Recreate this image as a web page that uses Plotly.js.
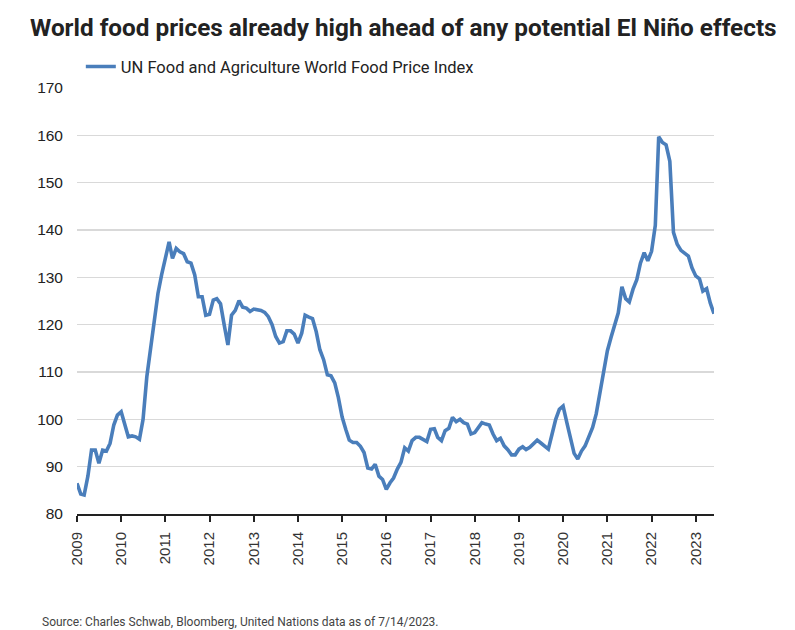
<!DOCTYPE html>
<html>
<head>
<meta charset="utf-8">
<script src="https://cdn.plot.ly/plotly-3.0.1.min.js"></script>
<style>html,body{margin:0;padding:0;background:#fff;}#chart{width:795px;height:630px;}</style>
</head>
<body>
<div id="chart"></div>
<script>
const seriesName = "UN Food and Agriculture World Food Price Index";
const startYear = 2009;
const v2009 = [86.5, 84.2, 84.0, 88.0, 93.5, 93.5, 90.7, 93.5, 93.3, 94.9, 98.8, 100.9];
const v2010 = [101.6, 99.0, 96.3, 96.5, 96.3, 95.8, 100.0, 109.0, 115.3, 121.0, 126.6, 130.5];
const v2011 = [134.4, 137.5, 134.0, 136.1, 135.4, 135.0, 133.3, 133.0, 130.5, 125.9, 125.9, 122.0];
const v2012 = [122.2, 125.2, 125.5, 124.4, 120.0, 115.7, 122.0, 123.0, 125.1, 123.7, 123.5, 122.8];
const v2013 = [123.3, 123.1, 123.0, 122.6, 121.7, 120.0, 117.5, 116.1, 116.4, 118.7, 118.7, 118.0];
const v2014 = [116.1, 118.2, 122.0, 121.6, 121.3, 118.5, 114.7, 112.6, 109.4, 109.2, 107.7, 104.6];
const v2015 = [100.5, 97.8, 95.6, 95.1, 95.1, 94.3, 93.0, 89.7, 89.5, 90.5, 88.0, 87.3];
const v2016 = [85.2, 86.6, 87.6, 89.5, 90.9, 94.0, 93.3, 95.5, 96.2, 96.2, 95.8, 95.3];
const v2017 = [97.9, 98.0, 96.2, 95.5, 97.6, 98.1, 100.4, 99.5, 100.0, 99.3, 99.0, 96.9];
const v2018 = [97.2, 98.3, 99.3, 99.0, 98.8, 96.9, 95.5, 96.0, 94.4, 93.6, 92.5, 92.5];
const v2019 = [93.7, 94.2, 93.6, 94.1, 94.8, 95.6, 95.0, 94.4, 93.7, 96.8, 100.0, 102.1];
const v2020 = [102.8, 99.3, 95.8, 92.8, 91.6, 93.3, 94.4, 96.2, 98.3, 101.2, 105.6, 110.6];
const v2021 = [114.5, 117.4, 119.7, 122.5, 128.0, 125.5, 124.8, 127.5, 129.5, 133.0, 135.2, 133.5];
const v2022 = [135.5, 141.0, 159.7, 158.5, 158.0, 154.5, 139.5, 137.0, 135.7, 135.2, 134.5, 132.0];
const v2023 = [130.3, 129.7, 127.1, 127.6, 124.6, 122.3];
const yearlyValues = [v2009, v2010, v2011, v2012, v2013, v2014, v2015, v2016, v2017, v2018, v2019, v2020, v2021, v2022, v2023];
const yTickVals = [80, 90, 100, 110, 120, 130, 140, 150, 160, 170];

const dates = [], values = [];
yearlyValues.forEach((arr, yi) => {
  arr.forEach((v, mi) => {
    const m = String(mi + 1).padStart(2, '0');
    dates.push((startYear + yi) + '-' + m + '-01');
    values.push(v);
  });
});
const yearTicks = [];
for (let y = startYear; y <= startYear + yearlyValues.length - 1; y++) yearTicks.push(y + '-01-01');

const trace = {
  x: dates, y: values, type: 'scatter', mode: 'lines', name: seriesName,
  line: {color: '#4a7ebb', width: 3.6, shape: 'linear'}, showlegend: true
};

const layout = {
  width: 795, height: 630,
  margin: {l: 77, r: 81, t: 88, b: 116},
  paper_bgcolor: '#fff', plot_bgcolor: '#fff',
  font: {family: 'Roboto, "Liberation Sans", Arial, sans-serif', color: '#222'},
  title: {text: 'World food prices already high ahead of any potential El Niño effects',
    x: 0, xref: 'paper', xanchor: 'left', y: 0.957, yref: 'container', yanchor: 'middle',
    pad: {l: -47},
    font: {family: 'Roboto, sans-serif', size: 24.3, weight: 'bold', color: '#222'}},
  showlegend: true,
  legend: {x: 0.006, xanchor: 'left', y: 1.05, yanchor: 'middle', orientation: 'h',
    font: {family: 'Roboto, sans-serif', size: 16.5, color: '#222'}, bgcolor: 'rgba(0,0,0,0)'},
  xaxis: {type: 'date', range: [dates[0], dates[dates.length - 1]],
    tickvals: yearTicks, tickformat: '%Y', tickangle: -90,
    showgrid: false, zeroline: false,
    showline: true, linecolor: '#222', linewidth: 2,
    ticks: 'outside', ticklen: 6, tickwidth: 2, tickcolor: '#222', ticklabelstandoff: 4,
    tickfont: {family: '"Liberation Sans", Arial, sans-serif', size: 15, color: '#333'}},
  yaxis: {range: [80, 170], tickvals: yTickVals, showgrid: true, gridcolor: '#d9d9d9', gridwidth: 1.5,
    zeroline: false, showline: false, ticks: '', ticklabelstandoff: 13,
    tickfont: {family: '"Liberation Sans", Arial, sans-serif', size: 15.5, color: '#222'}},
  annotations: [{text: 'Source: Charles Schwab, Bloomberg, United Nations data as of 7/14/2023.',
    xref: 'paper', yref: 'paper', x: -0.058, y: -0.253, xanchor: 'left', yanchor: 'middle',
    showarrow: false, font: {family: 'Roboto, sans-serif', size: 12, color: '#444'}}]
};

Plotly.newPlot('chart', [trace], layout, {displayModeBar: false, staticPlot: true});
</script>
</body>
</html>
